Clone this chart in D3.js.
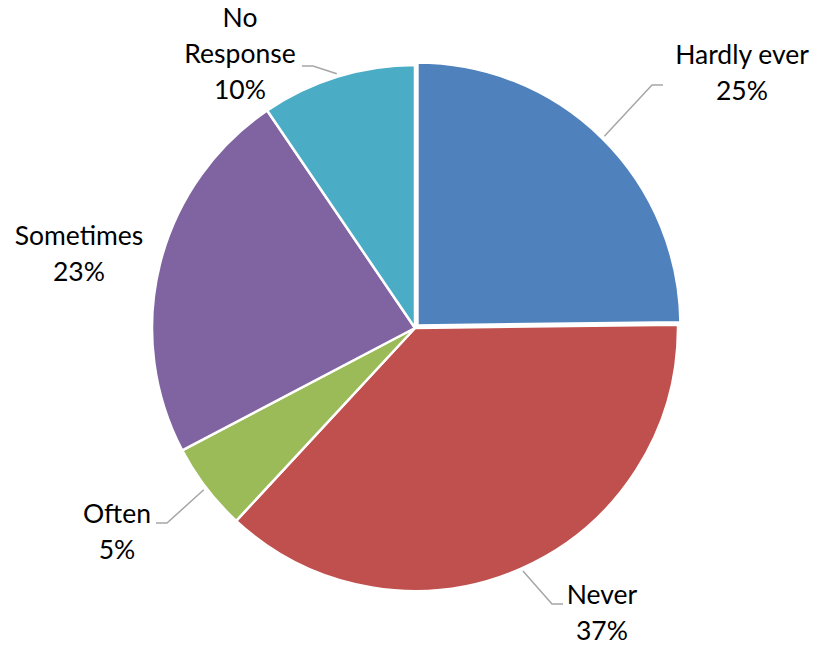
<!DOCTYPE html>
<html>
<head>
<meta charset="utf-8">
<script src="https://cdn.jsdelivr.net/npm/d3@7"></script>
<style>
  html, body { margin: 0; padding: 0; background: #fff; }
  svg { display: block; }
  text { font-family: Lato, "Open Sans", sans-serif; fill: #000; }
</style>
</head>
<body>
<svg id="chart" width="817" height="646"></svg>
<script>
// ---- data ----
const categories = ["Hardly ever", "Never", "Often", "Sometimes", "No Response"];
const values = [24.8, 37.1, 5.4, 23.2, 9.5];
const colors = ["#4F81BD", "#C0504D", "#9BBB59", "#8064A2", "#4BACC6"];
const labelLines = [["Hardly ever"], ["Never"], ["Often"], ["Sometimes"], ["No", "Response"]];

// ---- layout ----
const W = 817, H = 646;
const cx = 415, cy = 328, R = 263;
const explode = [3.5, 0, 0, 0, 0];
const lineH = 36;
const fontSize = 26.5;
// label block position: center x, first baseline y; leader elbow (ex,ey) and end x (hx)
const labelLayout = [
  { x: 742, y: 64, elbow: [652, 85], end: 663 },
  { x: 602, y: 604, elbow: [552, 604], end: 563 },
  { x: 117, y: 523, elbow: [167, 523], end: 156 },
  { x: 79, y: 245, elbow: null, end: null },
  { x: 240, y: 27, elbow: [313, 66], end: 302 }
];

const svg = d3.select("#chart");
const g = svg.append("g").attr("transform", `translate(${cx},${cy})`);

const pie = d3.pie().sort(null).value(d => d)(values);
const arc = d3.arc().innerRadius(0).outerRadius(R);
const fmt = v => Math.round(v) + "%";

pie.forEach((p, i) => {
  const mid = (p.startAngle + p.endAngle) / 2;
  p.dx = Math.sin(mid) * explode[i];
  p.dy = -Math.cos(mid) * explode[i];
  p.mid = mid;
});

g.selectAll("path.slice")
  .data(pie)
  .join("path")
  .attr("class", "slice")
  .attr("d", arc)
  .attr("transform", d => `translate(${d.dx},${d.dy})`)
  .attr("fill", (d, i) => colors[i])
  .attr("stroke", "#fff")
  .attr("stroke-width", 2.5)
  .attr("stroke-linejoin", "round");

// leader lines
const leaderR = R + 3;
pie.forEach((p, i) => {
  const L = labelLayout[i];
  if (!L.elbow) return;
  const sx = cx + p.dx + Math.sin(p.mid) * leaderR;
  const sy = cy + p.dy - Math.cos(p.mid) * leaderR;
  svg.append("polyline")
    .attr("points", [[sx, sy], L.elbow, [L.end, L.elbow[1]]].map(q => q.join(",")).join(" "))
    .attr("fill", "none")
    .attr("stroke", "#A6A6A6")
    .attr("stroke-width", 1.5);
});

// labels
pie.forEach((p, i) => {
  const L = labelLayout[i];
  const lines = labelLines[i].concat([fmt(values[i])]);
  const t = svg.append("text")
    .attr("text-anchor", "middle")
    .attr("font-size", fontSize);
  lines.forEach((s, k) => {
    t.append("tspan").attr("x", L.x).attr("y", L.y + k * lineH).text(s);
  });
});
</script>
</body>
</html>
